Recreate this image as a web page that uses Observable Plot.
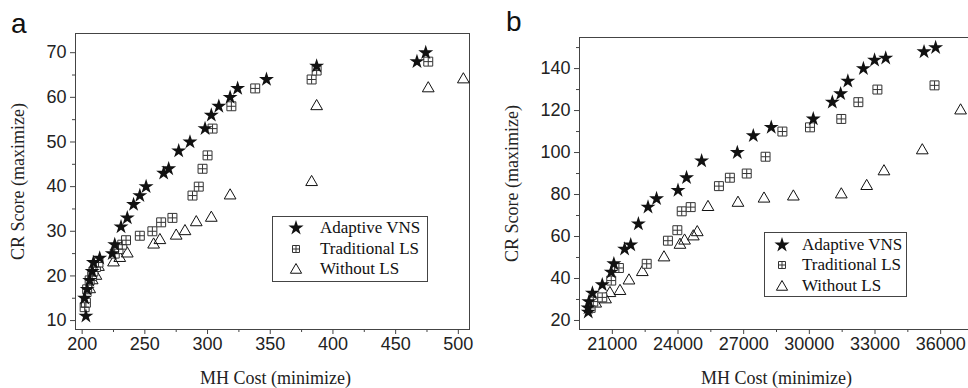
<!DOCTYPE html>
<html><head><meta charset="utf-8">
<script src="https://cdn.jsdelivr.net/npm/d3@7"></script>
<script src="https://cdn.jsdelivr.net/npm/@observablehq/plot@0.6"></script>
<style>
body{margin:0;background:#fff;}
#wrap{position:relative;width:968px;height:388px;overflow:hidden;background:#fff;}
.panel{position:absolute;top:0;}
.plabel{position:absolute;font-family:"Liberation Sans",Arial,sans-serif;font-size:28px;line-height:1;color:#111;}
.legend{position:absolute;border:1px solid #444;background:#fff;font-family:"Liberation Serif","Times New Roman",serif;font-size:17px;color:#111;box-sizing:border-box;}
.legend .row{position:absolute;left:0;right:0;height:20px;}
.legend .row svg{position:absolute;top:0;}
.legend .row span{position:absolute;top:0;line-height:20px;white-space:nowrap;}
</style></head>
<body><div id="wrap"></div>
<script>
// ---------- Panel a data ----------
const aVnsX = [203,202,204,206,208,209,214,224,226,231,236,241,246,251,265,269,277,286,298,303,309,318,324,347,387,467,474];
const aVnsY = [11,15,17,19,21,23,24,25,27,31,33,36,38,40,43,44,48,50,53,56,58,60,62,64,67,68,70];
const aTradX = [202,203,204,206,208,209,211,213,226,229,232,235,246,256,263,272,288,293,296,300,304,319,338,383,387,476];
const aTradY = [13,14,17,19,20,21,22,23,25,26,27,28,29,30,32,33,38,40,44,47,53,58,62,64,66,68];
const aNoX = [206,208,211,213,225,230,236,257,262,275,282,291,303,318,383,387,476,504];
const aNoY = [17,19,20,22,23,24,25,27,28,29,30,32,33,38,41,58,62,64];
const aXTicks = [200,250,300,350,400,450,500];
const aXMinor = [225,275,325,375,425,475];
const aYTicks = [10,20,30,40,50,60,70];
const aYMinor = [15,25,35,45,55,65];

// ---------- Panel b data ----------
const bVnsX = [19900,19890,19930,20090,20540,20950,21070,21560,21840,22190,22630,23020,24000,24390,25080,26710,27440,28260,30180,31050,31430,31760,32470,32980,33490,35240,35770];
const bVnsY = [24,26,29,33,37,43,47,54,56,66,74,78,82,88,96,100,108,112,116,124,128,134,140,144,145,148,150];
const bTradX = [20010,20130,20540,20950,21300,22570,23540,23970,24170,24580,25870,26370,27140,28000,28770,30030,31460,32240,33110,35720];
const bTradY = [26,29,31,39,45,47,58,63,72,74,84,88,90,98,110,112,116,124,130,132];
const bNoX = [20240,20690,20890,21350,21760,22370,23360,24090,24300,24700,24880,25370,26740,27930,29270,31460,32620,33410,35160,36910];
const bNoY = [28,30,33,34,39,43,50,56,58,60,62,74,76,78,79,80,84,91,101,120];
const bXTicks = [21000,24000,27000,30000,33000,36000];
const bXMinor = [22500,25500,28500,31500,34500];
const bYTicks = [20,40,60,80,100,120,140];
const bYMinor = [30,50,70,90,110,130,150];

const seriesNames = ["Adaptive VNS","Traditional LS","Without LS"];
const xTitle = "MH Cost (minimize)";
const yTitle = "CR Score (maximize)";

const zip = (xs, ys) => xs.map((x, i) => ({x, y: ys[i]}));
const SERIF = "'Liberation Serif', 'Times New Roman', serif";
const fmt = d3.format("d");

function panel(o) {
  const vns = zip(o.vx, o.vy), trad = zip(o.tx, o.ty), no = zip(o.nx, o.ny);
  return Plot.plot({
    width: o.width, height: 388,
    marginLeft: o.ml, marginRight: o.mr, marginTop: o.mt, marginBottom: 59,
    style: {fontFamily: "'Liberation Sans', Arial, sans-serif", fontSize: "18px", color: "#222", background: "white", overflow: "visible"},
    x: {domain: o.xd, label: null},
    y: {domain: o.yd, label: null},
    marks: [
      Plot.frame({stroke: "#444", strokeWidth: 1}),
      Plot.axisX(o.xt, {tickSize: 5, tickPadding: 3, label: null, stroke: "#444", tickFormat: fmt}),
      Plot.axisX(o.xm, {tickSize: 3, fill: "none", label: null, stroke: "#444"}),
      Plot.axisY(o.yt, {tickSize: 5, tickPadding: 4, label: null, stroke: "#444", tickFormat: fmt}),
      Plot.axisY(o.ym, {tickSize: 3, fill: "none", label: null, stroke: "#444"}),
      Plot.dot(no, {x: "x", y: "y", symbol: "triangle2", r: 5.6, stroke: "#111", strokeWidth: 1}),
      Plot.dot(trad, {x: "x", y: "y", symbol: "square2", r: 5.7, stroke: "#333", strokeWidth: 1, fill: "white"}),
      Plot.dot(trad, {x: "x", y: "y", symbol: "plus", r: 2.9, stroke: "#333", strokeWidth: 1}),
      Plot.dot(vns, {x: "x", y: "y", symbol: "star", r: 4.7, fill: "#111", stroke: "none"}),
      Plot.text([xTitle], {frameAnchor: "bottom", dy: 49, textAnchor: "middle", lineAnchor: "middle", fontFamily: SERIF, fontSize: 18, fill: "#222", dx: o.xtdx}),
      Plot.text([yTitle], {frameAnchor: "left", dx: o.ytdx, rotate: -90, textAnchor: "middle", lineAnchor: "middle", fontFamily: SERIF, fontSize: 18, fill: "#222"})
    ]
  });
}

const wrap = document.getElementById("wrap");

const pa = panel({width: 490, ml: 75, mr: 21, mt: 33,
  xd: [194.7, 508.9], yd: [8, 74.3], xt: aXTicks, xm: aXMinor, yt: aYTicks, ym: aYMinor,
  vx: aVnsX, vy: aVnsY, tx: aTradX, ty: aTradY, nx: aNoX, ny: aNoY, ytdx: -57, xtdx: 3});
pa.classList.add("panel"); pa.style.left = "0px";
wrap.appendChild(pa);

const pb = panel({width: 490, ml: 89, mr: 7, mt: 37,
  xd: [19500, 37500], yd: [15.7, 154.8], xt: bXTicks, xm: bXMinor, yt: bYTicks, ym: bYMinor,
  vx: bVnsX, vy: bVnsY, tx: bTradX, ty: bTradY, nx: bNoX, ny: bNoY, ytdx: -67, xtdx: 0});
pb.classList.add("panel"); pb.style.left = "490px";
wrap.appendChild(pb);

function addLabel(txt, left, top) {
  const d = document.createElement("div");
  d.className = "plabel"; d.textContent = txt;
  d.style.left = left + "px"; d.style.top = top + "px";
  wrap.appendChild(d);
}
addLabel("a", 11, 10);
addLabel("b", 506, 8);

function symSvg(kind) {
  const ns = "http://www.w3.org/2000/svg";
  const s = document.createElementNS(ns, "svg");
  s.setAttribute("width", 20); s.setAttribute("height", 20);
  s.setAttribute("viewBox", "-10 -10 20 20");
  const add = (type, size, attrs) => {
    const p = document.createElementNS(ns, "path");
    p.setAttribute("d", d3.symbol(type, size)());
    for (const k in attrs) p.setAttribute(k, attrs[k]);
    s.appendChild(p);
  };
  if (kind === 0) add(d3.symbolStar, 72, {fill: "#111"});
  if (kind === 1) { add(d3.symbolSquare2, 62, {fill: "none", stroke: "#333"}); add(d3.symbolPlus, 17, {fill: "none", stroke: "#333"}); }
  if (kind === 2) add(d3.symbolTriangle2, 90, {fill: "none", stroke: "#111", transform: "translate(0,1)"});
  return s;
}

function addLegend(left, top, w, h, rowY, symX, textX) {
  const box = document.createElement("div");
  box.className = "legend";
  box.style.left = left + "px"; box.style.top = top + "px";
  box.style.width = w + "px"; box.style.height = h + "px";
  seriesNames.forEach((name, i) => {
    const r = document.createElement("div");
    r.className = "row"; r.style.top = (rowY[i] - 10) + "px";
    const sv = symSvg(i); sv.style.left = (symX - 10) + "px";
    const sp = document.createElement("span"); sp.textContent = name; sp.style.left = textX + "px";
    r.appendChild(sv); r.appendChild(sp);
    box.appendChild(r);
  });
  wrap.appendChild(box);
}
addLegend(272, 216, 156, 66, [11, 32, 52], 23, 47);
addLegend(764, 232, 143, 65, [12, 32, 53], 17, 37);
</script>
</body></html>
